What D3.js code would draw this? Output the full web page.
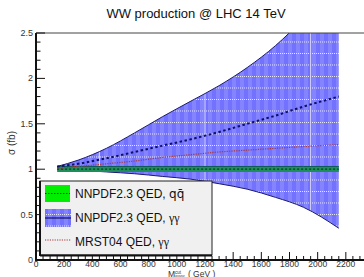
<!DOCTYPE html>
<html lang="en">
  <head>
    <meta charset="UTF-8" />
    <title>WW production @ LHC 14 TeV</title>
    <script src="https://d3js.org/d3.v7.min.js"></script>
    <style>
      body {
        margin: 0;
        padding: 0;
        background: #fff;
        font-family: "Liberation Sans", Arial, sans-serif;
      }
      svg {
        display: block;
      }
    </style>
  </head>
  <body>
    <svg width="364" height="277"></svg>
    <script>
      // values
      const mass = [150, 300, 500, 700, 900, 1100, 1300, 1500, 1700, 1900, 2150];
      const gammaUpper = [1.03, 1.1, 1.23, 1.4, 1.58, 1.75, 1.92, 2.12, 2.36, 2.66, 3.1];
      const gammaLower = [1.0, 0.99, 0.97, 0.95, 0.92, 0.89, 0.84, 0.78, 0.69, 0.58, 0.35];
      const gammaCentral = [1.03, 1.06, 1.12, 1.19, 1.26, 1.33, 1.41, 1.5, 1.59, 1.69, 1.8];
      const mrstCentral = [1.01, 1.03, 1.06, 1.09, 1.13, 1.16, 1.19, 1.21, 1.23, 1.25, 1.27];
      const qqCentral = [1, 1, 1, 1, 1, 1, 1, 1, 1, 1, 1];
      const qqUpper = [1.03, 1.03, 1.03, 1.03, 1.03, 1.03, 1.03, 1.03, 1.03, 1.03, 1.03];
      const qqLower = [0.97, 0.97, 0.97, 0.97, 0.97, 0.97, 0.97, 0.97, 0.97, 0.97, 0.97];

      const xTicks = d3.range(0, 2201, 200);
      const yTicks = [0, 0.5, 1, 1.5, 2, 2.5];

      const svg = d3.select("svg");
      const x = d3.scaleLinear().domain([0, 2400]).range([36, 374]);
      const y = d3.scaleLinear().domain([0, 2.5]).range([260, 33]);

      const defs = svg.append("defs");
      defs
        .append("clipPath")
        .attr("id", "plotclip")
        .append("rect")
        .attr("x", 36)
        .attr("y", 33)
        .attr("width", 340)
        .attr("height", 227);

      // checkered blue fill like the ROOT picture
      const pat = defs
        .append("pattern")
        .attr("id", "bluefill")
        .attr("patternUnits", "userSpaceOnUse")
        .attr("width", 8)
        .attr("height", 11.5)
        .attr("y", 30);
      pat.append("rect").attr("width", 8).attr("height", 11.5).attr("fill", "#7272ff");
      pat.append("rect").attr("width", 4).attr("height", 11.5).attr("fill", "#8484ff");
      pat
        .append("line")
        .attr("x1", 0)
        .attr("x2", 8)
        .attr("y1", 0.5)
        .attr("y2", 0.5)
        .attr("stroke", "#e8e8ff")
        .attr("stroke-dasharray", "1,1");

      const rows = mass.map((m, i) => ({
        m,
        gu: gammaUpper[i],
        gl: gammaLower[i],
        gc: gammaCentral[i],
        mr: mrstCentral[i],
        qc: qqCentral[i],
        qu: qqUpper[i],
        ql: qqLower[i],
      }));

      const plot = svg.append("g").attr("clip-path", "url(#plotclip)");

      const gArea = d3
        .area()
        .curve(d3.curveMonotoneX)
        .x((d) => x(d.m))
        .y0((d) => y(d.gl))
        .y1((d) => y(d.gu));
      plot.append("path").datum(rows).attr("d", gArea).attr("fill", "url(#bluefill)");

      // faint vertical light lines across the band
      defs.append("clipPath").attr("id", "bandclip").append("path").attr("d", gArea(rows));
      [450, 1200, 1950].forEach((v) => {
        plot
          .append("line")
          .attr("x1", x(v))
          .attr("x2", x(v))
          .attr("y1", 33)
          .attr("y2", 260)
          .attr("stroke", "#d8d8ff")
          .attr("stroke-width", 1)
          .attr("clip-path", "url(#bandclip)");
      });

      const edge = (key) =>
        d3
          .line()
          .curve(d3.curveMonotoneX)
          .x((d) => x(d.m))
          .y((d) => y(d[key]));

      plot
        .append("path")
        .datum(rows)
        .attr("d", edge("gu"))
        .attr("fill", "none")
        .attr("stroke", "#1a1a6e")
        .attr("stroke-width", 1);
      plot
        .append("path")
        .datum(rows)
        .attr("d", edge("gl"))
        .attr("fill", "none")
        .attr("stroke", "#1a1a6e")
        .attr("stroke-width", 1);

      // q qbar band
      const qArea = d3
        .area()
        .x((d) => x(d.m))
        .y0((d) => y(d.ql))
        .y1((d) => y(d.qu));
      plot.append("path").datum(rows).attr("d", qArea).attr("fill", "#1f8f5a");
      plot
        .append("path")
        .datum(rows)
        .attr("d", edge("qu"))
        .attr("fill", "none")
        .attr("stroke", "#0d5a55")
        .attr("stroke-width", 1);
      plot
        .append("path")
        .datum(rows)
        .attr("d", edge("qc"))
        .attr("fill", "none")
        .attr("stroke", "#0b3a2a")
        .attr("stroke-width", 1.2)
        .attr("stroke-dasharray", "2,2");

      plot
        .append("path")
        .datum(rows)
        .attr("d", edge("mr"))
        .attr("fill", "none")
        .attr("stroke", "#a8383a")
        .attr("stroke-width", 1.2)
        .attr("stroke-dasharray", "1.2,1.2");

      plot
        .append("path")
        .datum(rows)
        .attr("d", edge("gc"))
        .attr("fill", "none")
        .attr("stroke", "#10106a")
        .attr("stroke-width", 2)
        .attr("stroke-dasharray", "2.5,2.5");

      // frame top
      svg
        .append("line")
        .attr("x1", 36)
        .attr("x2", 364)
        .attr("y1", 33)
        .attr("y2", 33)
        .attr("stroke", "#444")
        .attr("stroke-width", 1);

      // y axis
      const yAxis = svg.append("g");
      yAxis
        .append("line")
        .attr("x1", 36)
        .attr("x2", 36)
        .attr("y1", 33)
        .attr("y2", 261)
        .attr("stroke", "#111")
        .attr("stroke-width", 2);
      d3.range(0, 2.501, 0.1).forEach((v) => {
        const major = Math.abs(v * 2 - Math.round(v * 2)) < 1e-6;
        yAxis
          .append("line")
          .attr("x1", 36)
          .attr("x2", 36 + (major ? 9 : 4.5))
          .attr("y1", y(v))
          .attr("y2", y(v))
          .attr("stroke", "#111")
          .attr("stroke-width", 1);
      });
      yAxis
        .selectAll("text")
        .data(yTicks)
        .join("text")
        .attr("x", 33)
        .attr("y", (d) => y(d) + 3)
        .attr("text-anchor", "end")
        .attr("font-size", 9)
        .attr("fill", "#333")
        .text((d) => d);

      // x axis
      const xAxis = svg.append("g");
      xAxis
        .append("line")
        .attr("x1", 35)
        .attr("x2", 364)
        .attr("y1", 260)
        .attr("y2", 260)
        .attr("stroke", "#111")
        .attr("stroke-width", 2);
      d3.range(0, 2451, 50).forEach((v) => {
        const major = v % 200 === 0;
        xAxis
          .append("line")
          .attr("x1", x(v))
          .attr("x2", x(v))
          .attr("y1", 260)
          .attr("y2", 260 - (major ? 8 : 4))
          .attr("stroke", "#111")
          .attr("stroke-width", 1);
      });
      xAxis
        .selectAll("text")
        .data(xTicks)
        .join("text")
        .attr("x", (d) => x(d))
        .attr("y", 267)
        .attr("text-anchor", "middle")
        .attr("font-size", 8.5)
        .attr("fill", "#333")
        .text((d) => d);

      // title
      svg
        .append("text")
        .attr("x", 196)
        .attr("y", 18)
        .attr("text-anchor", "middle")
        .attr("font-size", 13)
        .attr("fill", "#111")
        .text("WW production @ LHC 14 TeV");

      // axis titles
      svg
        .append("text")
        .attr("transform", "translate(15,143) rotate(-90)")
        .attr("text-anchor", "middle")
        .attr("font-size", 10)
        .attr("fill", "#333")
        .text("σ (fb)");

      const xl = svg
        .append("text")
        .attr("x", 168)
        .attr("y", 276.5)
        .attr("font-size", 8.5)
        .attr("fill", "#333");
      xl.append("tspan").text("M");
      xl.append("tspan").attr("font-size", 4.5).attr("dy", -3).attr("dx", 0).text("cut");
      xl.append("tspan").attr("font-size", 3.5).attr("dy", 4).attr("dx", -6.5).text("WWW");
      xl.append("tspan").attr("dy", -1).attr("dx", 1).text(" ( GeV )");

      // legend
      const lg = svg.append("g");
      lg.append("rect")
        .attr("x", 40)
        .attr("y", 181)
        .attr("width", 172)
        .attr("height", 74)
        .attr("fill", "#f0f0f0")
        .attr("stroke", "#222")
        .attr("stroke-width", 1);
      lg.append("line")
        .attr("x1", 40)
        .attr("x2", 40)
        .attr("y1", 181)
        .attr("y2", 256)
        .attr("stroke", "#111")
        .attr("stroke-width", 2);
      lg.append("line")
        .attr("x1", 40)
        .attr("x2", 212)
        .attr("y1", 255.5)
        .attr("y2", 255.5)
        .attr("stroke", "#111")
        .attr("stroke-width", 2);

      lg.append("rect")
        .attr("x", 45)
        .attr("y", 185)
        .attr("width", 25)
        .attr("height", 17)
        .attr("fill", "#00ee00");
      lg.append("line")
        .attr("x1", 45)
        .attr("x2", 70)
        .attr("y1", 193.5)
        .attr("y2", 193.5)
        .attr("stroke", "#114411")
        .attr("stroke-dasharray", "1.5,1.5");

      lg.append("rect")
        .attr("x", 45)
        .attr("y", 209)
        .attr("width", 26)
        .attr("height", 18)
        .attr("fill", "url(#bluefill)");
      lg.append("line")
        .attr("x1", 45)
        .attr("x2", 71)
        .attr("y1", 218)
        .attr("y2", 218)
        .attr("stroke", "#10105a")
        .attr("stroke-width", 1.2);

      lg.append("line")
        .attr("x1", 45)
        .attr("x2", 71)
        .attr("y1", 240)
        .attr("y2", 240)
        .attr("stroke", "#a8383a")
        .attr("stroke-width", 1.2)
        .attr("stroke-dasharray", "1.2,1.2");

      const entries = [
        { y: 198, main: "NNPDF2.3 QED, ", tail: "qq\u0304", serif: false },
        { y: 222, main: "NNPDF2.3 QED, ", tail: "γγ", serif: true },
        { y: 246, main: "MRST04 QED, ", tail: "γγ", serif: true },
      ];
      entries.forEach((e) => {
        const t = lg
          .append("text")
          .attr("x", 75)
          .attr("y", e.y)
          .attr("font-size", 12)
          .attr("fill", "#111");
        t.append("tspan").text(e.main);
        t.append("tspan")
          .attr("font-family", e.serif ? "'Liberation Serif', serif" : "'DejaVu Sans', sans-serif")
          .text(e.tail);
      });
    </script>
  </body>
</html>
